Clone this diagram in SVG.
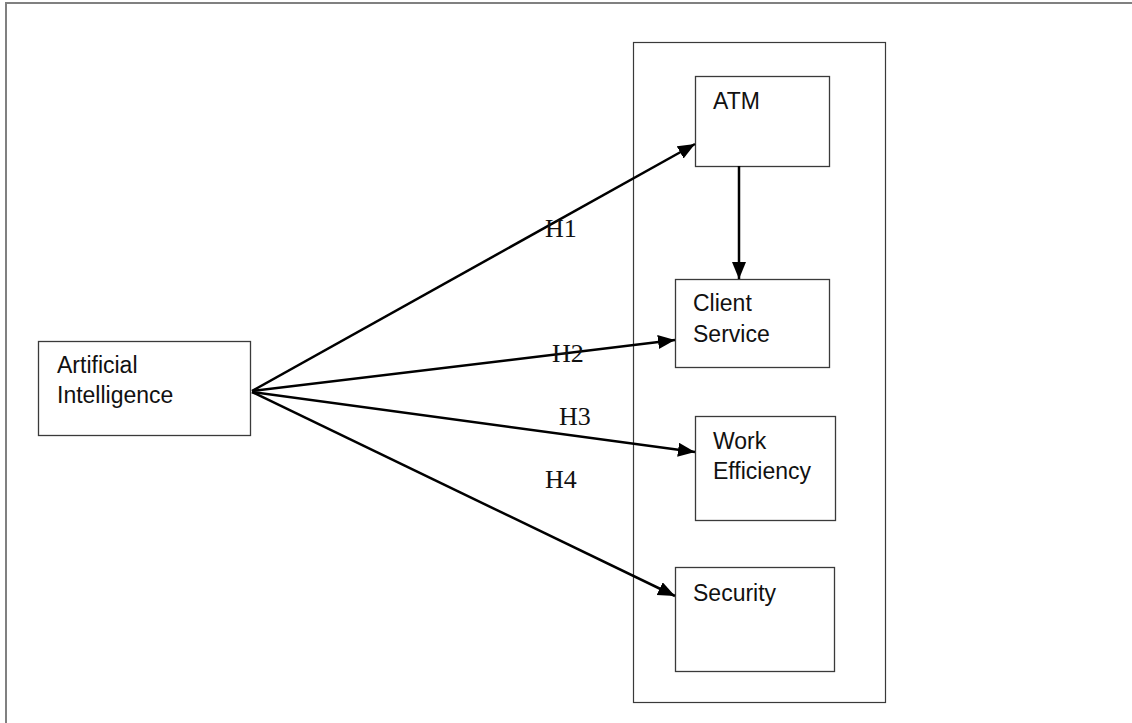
<svg xmlns="http://www.w3.org/2000/svg" width="1132" height="723" viewBox="0 0 1132 723">
<defs>
<style>
.box{fill:#fff;stroke:#3a3a3a;stroke-width:1.3}
.frame{fill:none;stroke:#808080;stroke-width:2}
.lbl{font-family:"Liberation Sans",Arial,sans-serif;font-size:23px;fill:#111}
.h{font-family:"Liberation Serif","Times New Roman",serif;font-size:26px;fill:#111}
.conn{stroke:#000;stroke-width:2.5;fill:none;marker-end:url(#ah)}
</style>
<marker id="ah" markerUnits="userSpaceOnUse" markerWidth="18" markerHeight="16" refX="17" refY="7" orient="auto">
<path d="M0,0 L17,7 L0,14 z" fill="#000"/>
</marker>
</defs>
<rect width="1132" height="723" fill="#fff"/>
<path class="frame" d="M6,723 V3 H1132"/>
<g id="container"><rect x="633.5" y="42.5" width="252" height="660" fill="none" stroke="#3a3a3a" stroke-width="1.2"/></g>
<g id="ai"><rect class="box" x="38.5" y="341.5" width="212" height="94"/><text class="lbl" x="57" y="373">Artificial</text><text class="lbl" x="57" y="403">Intelligence</text></g>
<g id="atm"><rect class="box" x="695.5" y="76.5" width="134" height="90"/><text class="lbl" x="713" y="109">ATM</text></g>
<g id="client"><rect class="box" x="675.5" y="279.5" width="154" height="88"/><text class="lbl" x="693" y="311">Client</text><text class="lbl" x="693" y="342">Service</text></g>
<g id="work"><rect class="box" x="695.5" y="416.5" width="140" height="104"/><text class="lbl" x="713" y="449">Work</text><text class="lbl" x="713" y="479">Efficiency</text></g>
<g id="security"><rect class="box" x="675.5" y="567.5" width="159" height="104"/><text class="lbl" x="693" y="601">Security</text></g>
<g id="connectors">
<line class="conn" x1="252" y1="391" x2="695" y2="144"/>
<line class="conn" x1="252" y1="391" x2="675" y2="340"/>
<line class="conn" x1="252" y1="392" x2="695" y2="452"/>
<line class="conn" x1="252" y1="392" x2="675" y2="596"/>
<line class="conn" x1="739" y1="166" x2="739" y2="279"/>
</g>
<g id="labels">
<text class="h" x="545" y="237">H1</text>
<text class="h" x="552" y="362">H2</text>
<text class="h" x="559" y="425">H3</text>
<text class="h" x="545" y="488">H4</text>
</g>
</svg>
